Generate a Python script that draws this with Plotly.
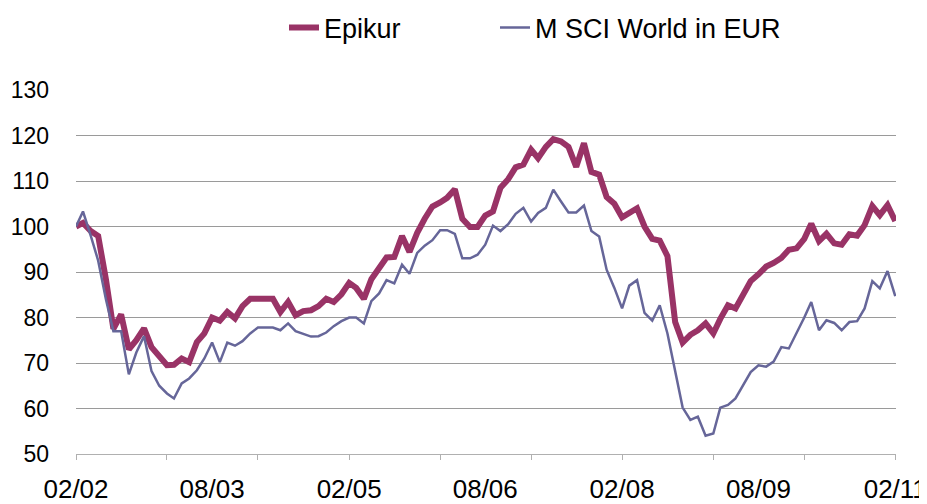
import pandas as pd
import plotly.graph_objects as go

# Monthly observations, 02/2002 .. 02/2011
dates = pd.date_range("2002-02-01", periods=109, freq="MS")

epikur = [
    100, 100.8, 99, 97.9, 88.4, 77.5, 80.7, 73, 75, 77.6,
    73.5, 71.3, 69.5, 69.6, 71, 70.2, 74.6, 76.5, 80, 79.3,
    81.2, 79.8, 82.5, 84.1, 84.1, 84.1, 84.1, 81.2, 83.4, 80.5,
    81.4, 81.6, 82.5, 84.1, 83.4, 85.1, 87.6, 86.5, 84.1, 88.4,
    90.9, 93.2, 93.3, 97.9, 94.4, 98.6, 101.7, 104.4, 105.3, 106.3,
    108.2, 101.7, 99.9, 99.9, 102.4, 103.3, 108.5, 110.4, 113, 113.6,
    116.9, 115, 117.5, 119.2, 118.7, 117.5, 113.1, 118.3, 112, 111.4,
    106.5, 105, 102, 103, 104, 100, 97.3, 96.9, 93.5, 79,
    74.5, 76.2, 77.2, 78.7, 76.5, 79.7, 82.7, 82, 85, 88,
    89.5, 91.2, 92, 93.1, 94.9, 95.2, 97.3, 100.6, 96.8, 98.4,
    96.3, 96, 98.3, 98, 100.3, 104.5, 102.5, 104.7, 101.2,
]

msci = [
    100, 103.3, 98, 92.5, 84, 77, 77, 67.5, 72.3, 75.9,
    68.2, 65, 63.3, 62.2, 65.5, 66.6, 68.4, 71, 74.5, 70.2,
    74.5, 73.8, 74.8, 76.5, 77.8, 77.8, 77.8, 77.2, 78.7, 77,
    76.4, 75.8, 75.9, 76.7, 78.1, 79.2, 80, 80, 78.7, 83.6,
    85.3, 88.2, 87.5, 91.6, 89.6, 94.2, 95.8, 97, 99.2, 99.2,
    98.4, 93, 93, 93.8, 96, 100.2, 99, 100.5, 102.8, 104.1,
    101.1, 103, 104.1, 108.1, 105.5, 103.1, 103.1, 104.6, 99, 97.8,
    90.5, 86.5, 82, 87, 88.2, 81, 79.3, 82.7, 76.5, 68.5,
    60.2, 57.5, 58.2, 54, 54.5, 60.2, 60.8, 62.2, 65, 68,
    69.5, 69.2, 70.3, 73.5, 73.2, 76.5, 80, 83.4, 77.2, 79.4,
    78.8, 77.2, 79, 79.2, 82, 88, 86.4, 90.2, 84.7,
]

series_names = ["Epikur", "M SCI World in EUR"]
y_ticks = [50, 60, 70, 80, 90, 100, 110, 120, 130]

FONT = "Liberation Sans, Arial, sans-serif"
# The page body has an 8px default margin, so the figure is sized to fill
# the remaining 919x496 of the 927x504 window.
W, H = 919, 496

fig = go.Figure()
fig.add_trace(go.Scatter(
    x=dates, y=epikur, name=series_names[0], mode="lines",
    line=dict(color="#993366", width=6), xaxis="x", yaxis="y",
    legend="legend",
))
fig.add_trace(go.Scatter(
    x=dates, y=msci, name=series_names[1], mode="lines",
    line=dict(color="#666699", width=2.5), xaxis="x2", yaxis="y",
    legend="legend2",
))

x_range = ["2002-02-01", "2011-02-04"]

legend_common = dict(
    orientation="h", xref="container", yref="container",
    xanchor="left", y=1 - 20 / H, yanchor="middle",
    font=dict(size=27, family=FONT), bgcolor="rgba(0,0,0,0)",
    itemwidth=30,
)

fig.update_layout(
    width=W, height=H,
    margin=dict(l=68, r=31, t=82, b=50, autoexpand=False),
    paper_bgcolor="white", plot_bgcolor="white",
    font=dict(family=FONT, color="black"),
    showlegend=True,
    legend=dict(legend_common, x=276 / W),
    legend2=dict(legend_common, x=487 / W),
    xaxis=dict(
        type="date", range=x_range, automargin=False,
        tickmode="linear", tick0="2002-02-01", dtick="M12",
        ticks="outside", ticklen=5, tickcolor="#b0b0b0", tickwidth=1,
        showticklabels=False, showline=True, linecolor="#b0b0b0", linewidth=1,
        showgrid=False, zeroline=False,
    ),
    xaxis2=dict(
        type="date", range=x_range, overlaying="x", side="bottom", matches="x",
        automargin=False,
        tickmode="linear", tick0="2002-02-01", dtick="M18", tickformat="%m/%y",
        ticks="", showline=False, showgrid=False, zeroline=False,
        tickfont=dict(size=26, family=FONT), ticklabelstandoff=17,
        ticklabeloverflow="allow",
    ),
    yaxis=dict(
        range=[50, 130], tickmode="array", tickvals=y_ticks, automargin=False,
        showgrid=True, gridcolor="#9a9a9a", gridwidth=1,
        showline=False, zeroline=False, ticks="",
        tickfont=dict(size=23, family=FONT), ticklabelstandoff=26,
    ),
)

fig.write_html("out.html")
